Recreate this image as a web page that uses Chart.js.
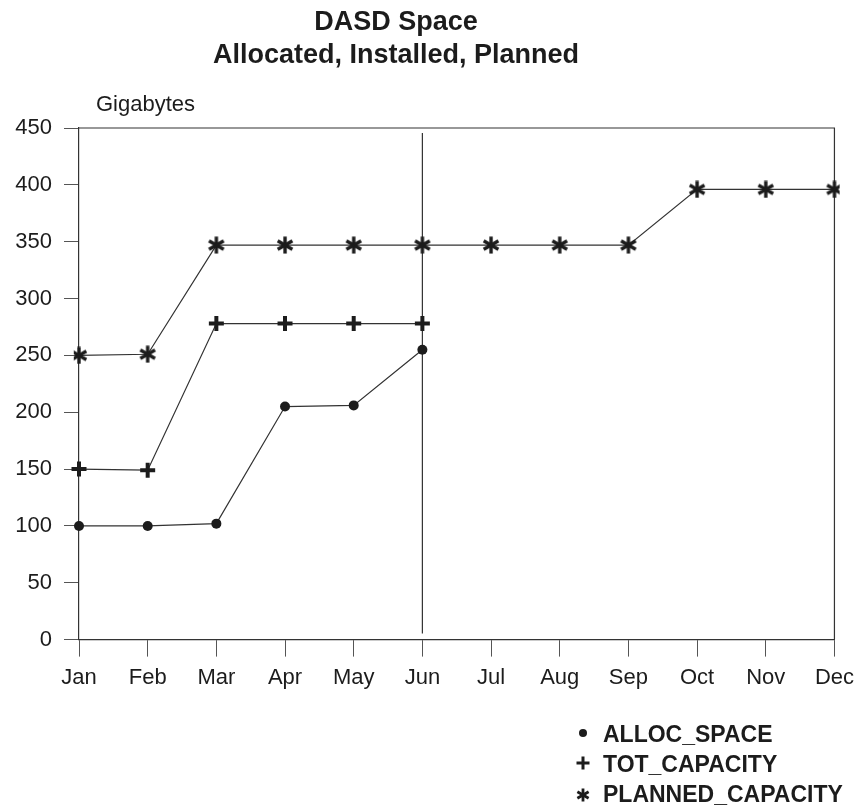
<!DOCTYPE html>
<html>
<head>
<meta charset="utf-8">
<title>DASD Space</title>
<script src="https://cdn.jsdelivr.net/npm/chart.js@4.4.0/dist/chart.umd.min.js"></script>
<style>
  html, body { margin: 0; padding: 0; background: #fff; }
</style>
</head>
<body>
<canvas id="dasd" width="862" height="808"></canvas>
<script>
// values (gigabytes)
const months = ["Jan", "Feb", "Mar", "Apr", "May", "Jun", "Jul", "Aug", "Sep", "Oct", "Nov", "Dec"];
const allocSpace = [100, 100, 102, 205, 206, 255];
const totCapacity = [150, 149, 278, 278, 278, 278];
const plannedCapacity = [250, 251, 347, 347, 347, 347, 347, 347, 347, 396, 396, 396];
const yTicks = [0, 50, 100, 150, 200, 250, 300, 350, 400, 450];
const titleLines = ["DASD Space", "Allocated, Installed, Planned"];
const currentMonth = "Jun";

const FONT = "'Liberation Sans', Arial, Helvetica, sans-serif";
const INK = "#1c1c1c";

// six armed asterisk used as point style
const makeAsterisk = (size, lw) => {
  const c = document.createElement("canvas");
  c.width = size;
  c.height = size;
  const g = c.getContext("2d");
  g.strokeStyle = INK;
  g.lineWidth = lw;
  const r = size / 2 - 0.5;
  [90, 30, 150].forEach((deg) => {
    const a = (deg * Math.PI) / 180;
    g.beginPath();
    g.moveTo(size / 2 - r * Math.cos(a), size / 2 - r * Math.sin(a));
    g.lineTo(size / 2 + r * Math.cos(a), size / 2 + r * Math.sin(a));
    g.stroke();
  });
  return c;
};
const bigStar = makeAsterisk(18, 3.4);
const smallStar = makeAsterisk(14, 2.8);

const frame = {
  id: "frame",
  beforeDatasetsDraw(chart) {
    const { ctx, chartArea: a, scales } = chart;
    ctx.save();
    ctx.strokeStyle = "#333";
    ctx.lineWidth = 1.2;
    ctx.beginPath();
    ctx.moveTo(a.left, a.top);
    ctx.lineTo(a.right, a.top);
    ctx.lineTo(a.right, a.bottom);
    // marker for the current month
    const jx = scales.x.getPixelForValue(months.indexOf(currentMonth));
    ctx.moveTo(jx, a.top + 5);
    ctx.lineTo(jx, a.bottom - 6);
    ctx.stroke();
    ctx.restore();
  },
  afterDraw(chart) {
    const { ctx } = chart;
    ctx.save();
    ctx.fillStyle = INK;
    ctx.textBaseline = "alphabetic";

    ctx.textAlign = "center";
    ctx.font = `bold 27px ${FONT}`;
    titleLines.forEach((t, i) => ctx.fillText(t, 396, 30 + i * 33));

    ctx.textAlign = "left";
    ctx.font = `22px ${FONT}`;
    ctx.fillText("Gigabytes", 96, 111);

    // legend, stacked at bottom right
    ctx.font = `bold 23px ${FONT}`;
    chart.data.datasets.forEach((ds, i) => {
      const base = 742 + i * 30;
      const mx = 583;
      const my = base - 9;
      ctx.fillText(ds.label, 603, base);
      ctx.strokeStyle = INK;
      ctx.lineWidth = 3;
      if (ds.pointStyle === "circle") {
        ctx.beginPath();
        ctx.arc(mx, my, 4, 0, Math.PI * 2);
        ctx.fill();
      } else if (ds.pointStyle === "cross") {
        ctx.beginPath();
        ctx.moveTo(mx - 6.5, my);
        ctx.lineTo(mx + 6.5, my);
        ctx.moveTo(mx, my - 6.5);
        ctx.lineTo(mx, my + 6.5);
        ctx.stroke();
      } else {
        ctx.drawImage(smallStar, mx - smallStar.width / 2, my - smallStar.height / 2 + 2);
      }
    });
    ctx.restore();
  },
};

new Chart(document.querySelector("#dasd"), {
  type: "line",
  data: {
    labels: months,
    datasets: [
      {
        label: "ALLOC_SPACE",
        data: allocSpace,
        pointStyle: "circle",
        pointRadius: 5,
        pointBackgroundColor: INK,
        pointBorderWidth: 0,
      },
      {
        label: "TOT_CAPACITY",
        data: totCapacity,
        pointStyle: "cross",
        pointRadius: 7.5,
        pointBorderColor: INK,
        pointBorderWidth: 4,
      },
      {
        label: "PLANNED_CAPACITY",
        data: plannedCapacity,
        pointStyle: bigStar,
      },
    ].map((ds) => ({
      borderColor: "#333",
      borderWidth: 1.2,
      tension: 0,
      fill: false,
      ...ds,
    })),
  },
  options: {
    responsive: false,
    animation: false,
    layout: {
      padding: { top: 128, right: 26, bottom: 109, left: 0 },
    },
    plugins: {
      legend: { display: false },
      tooltip: { enabled: false },
      title: { display: false },
    },
    scales: {
      x: {
        offset: false,
        grid: {
          drawOnChartArea: false,
          drawTicks: true,
          tickLength: 17,
          color: "#555",
        },
        border: { display: true, color: "#333", width: 1.2 },
        ticks: {
          color: INK,
          font: { family: FONT, size: 22 },
          padding: 8,
          autoSkip: false,
          maxRotation: 0,
        },
      },
      y: {
        min: 0,
        max: 450,
        afterBuildTicks: (scale) => {
          scale.ticks = yTicks.map((v) => ({ value: v }));
        },
        afterFit: (scale) => {
          scale.width = 79;
        },
        grid: {
          drawOnChartArea: false,
          drawTicks: true,
          tickLength: 15,
          color: "#555",
        },
        border: { display: true, color: "#333", width: 1.2 },
        ticks: {
          color: INK,
          font: { family: FONT, size: 22 },
          padding: 12,
        },
      },
    },
  },
  plugins: [frame],
});
</script>
</body>
</html>
